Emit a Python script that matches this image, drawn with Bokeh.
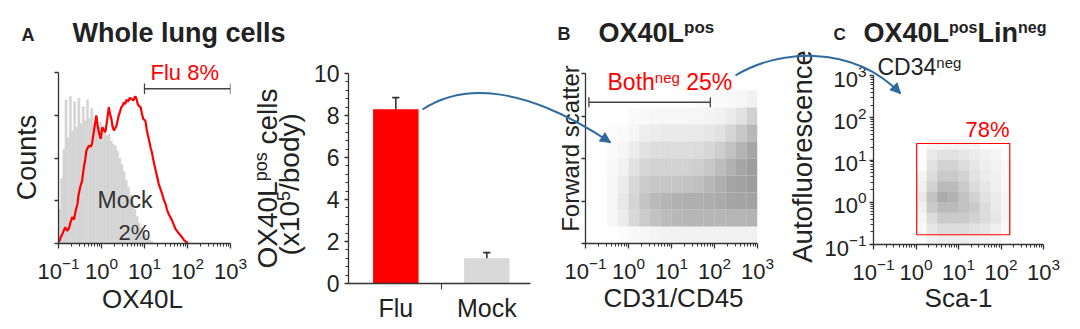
import math
from bokeh.plotting import figure
from bokeh.models import Range1d, FixedTicker, Arrow, NormalHead
from bokeh.core.properties import value
from bokeh.layouts import row
from bokeh.embed import file_html
from bokeh.resources import INLINE

# ------------------------------------------------------------------ data
decade_ticks = [0.1, 1, 10, 100, 1000]
decade_minor = [k * 10.0 ** e for e in range(-1, 3) for k in range(2, 10)]

# Panel A histogram (log10 OX40L bins of 0.05 decade, % of max)
mock_bin_left_log = [-1.0 + 0.05 * i for i in range(44)]
mock_counts = [20, 38, 55, 84, 62, 86, 66, 83, 68, 85, 70, 80, 72, 84, 73, 79,
               70, 74, 68, 71, 66, 67, 63, 64, 60, 58, 57, 54, 50, 46, 42, 37,
               33, 28, 24, 20, 16, 12, 9.5, 7, 5, 3.5, 2, 1]
flu_log = [-0.99, -0.95, -0.91, -0.87, -0.84, -0.80, -0.76, -0.72, -0.68, -0.64,
           -0.60, -0.56, -0.53, -0.49, -0.45, -0.41, -0.38, -0.35, -0.32, -0.29,
           -0.25, -0.22, -0.20, -0.18, -0.15, -0.12, -0.09, -0.06, -0.02, 0.02,
           0.05, 0.09, 0.13, 0.17, 0.20, 0.23, 0.26, 0.29, 0.32, 0.35, 0.40,
           0.43, 0.46, 0.49, 0.52, 0.55, 0.58, 0.62, 0.66, 0.70, 0.74, 0.77,
           0.79, 0.82, 0.84, 0.87, 0.91, 0.94, 0.97, 1.02, 1.05, 1.08, 1.11,
           1.14, 1.17, 1.20, 1.23, 1.26, 1.30, 1.33, 1.37, 1.41, 1.45, 1.49,
           1.52, 1.56, 1.60, 1.64, 1.68, 1.72, 1.78, 1.84, 1.88, 1.91, 1.96, 2.01]
flu_pct = [0.8, 3.5, 5.6, 8.0, 9.5, 7.5, 8.6, 12.5, 15.4, 14.0,
           19.3, 23.0, 29.0, 33.5, 36.8, 44.6, 49.0, 54.4, 56.0, 57.3,
           56.5, 58.3, 62.0, 65.1, 70.0, 74.9, 69.0, 65.1, 61.2, 68.0,
           66.5, 65.1, 72.0, 79.7, 75.5, 72.9, 68.0, 66.1, 67.5, 69.0, 74.9,
           77.0, 79.7, 80.5, 82.6, 81.5, 84.0, 83.0, 85.2, 84.5, 83.6, 85.5,
           86.0, 84.0, 81.7, 80.5, 79.7, 76.0, 72.9, 71.9, 67.0, 63.2, 60.0,
           56.3, 53.5, 49.5, 46.0, 42.7, 38.5, 34.9, 32.0, 29.1, 25.5, 23.2,
           20.0, 17.3, 15.5, 13.5, 11.0, 8.6, 6.5, 4.7, 3.4, 2.2, 1.0, 0.2]
gate_a = [10, 1000]
gate_a_level = 90.5

# Bar chart
bar_categories = ["Flu", "Mock"]
bar_values = [8.3, 1.2]
bar_errors = [0.55, 0.27]
bar_colors = ["#ff0000", "#d9d9d9"]

# Panel B density of events (columns: log10 CD31/CD45 from -1 by 0.25 dec,
# rows: forward scatter from 100 down to 0 by 10)
b_col_left_log = [-1.0 + 0.25 * i for i in range(16)]
b_row_top = [100 - 10 * i for i in range(10)]
b_density = [
    [0, 0, 0, 0, 0, 0, 0, 0, 0, 0, 0, 0, 0, 0, 0, 0],
    [0, 0, 0, 0, 0, 0, 0, 0, 0, 0, 0.1, 0.15, 0.2, 0.3, 0.5, 0.8],
    [0, 0, 0, 0, 0.2, 0.3, 0.4, 0.4, 0.4, 0.5, 0.5, 0.6, 0.8, 1.2, 2.0, 3.5],
    [0, 0, 0.1, 0.2, 0.5, 1.0, 1.2, 1.3, 1.3, 1.3, 1.4, 1.6, 2.0, 3.0, 4.5, 6.0],
    [0, 0, 0.2, 0.5, 1.2, 2.0, 2.4, 2.5, 2.4, 2.4, 2.6, 3.0, 3.8, 5.0, 6.5, 8.0],
    [0, 0, 0.3, 0.8, 2.0, 3.0, 3.4, 3.4, 3.3, 3.4, 3.8, 4.5, 5.5, 6.8, 8.0, 9.0],
    [0, 0, 0.4, 1.2, 2.8, 4.0, 4.5, 4.6, 4.6, 4.8, 5.2, 6.0, 7.0, 8.0, 8.5, 9.0],
    [0, 0, 0.5, 1.5, 3.2, 4.8, 5.8, 6.3, 6.8, 7.0, 7.0, 7.2, 7.5, 8.0, 8.2, 8.5],
    [0, 0, 0.4, 1.2, 2.8, 4.0, 5.0, 5.6, 6.0, 6.2, 6.2, 6.2, 6.2, 6.2, 6.2, 6.5],
    [0, 0, 0, 0.1, 0.3, 0.5, 0.6, 0.7, 0.8, 0.8, 0.8, 0.8, 0.8, 0.8, 0.8, 0.8],
]
gate_b = [0.12, 80]
gate_b_level = 83.1

# Panel C density of events (columns: log10 Sca-1 from 0 by 0.25 dec,
# rows: log10 autofluorescence from 1.5 down to -1 by 0.25 dec)
c_col_left_log = [0.25 * i for i in range(9)]
c_row_top_log = [1.5 - 0.25 * i for i in range(10)]
c_density = [
    [0, 0.3, 0.3, 0.3, 0.3, 0.3, 0, 0, 0],
    [0, 0.8, 1.2, 1.2, 1.0, 0.7, 0.5, 0.3, 0],
    [0, 1.2, 2.0, 2.0, 1.5, 1.0, 0.6, 0.4, 0.2],
    [0.3, 1.5, 2.5, 2.5, 2.0, 1.2, 0.7, 0.5, 0.2],
    [0.5, 2.0, 3.5, 3.5, 2.5, 1.5, 1.0, 0.5, 0.2],
    [0.8, 3.0, 4.5, 4.0, 3.0, 2.0, 1.2, 0.7, 0.3],
    [0.5, 2.5, 3.5, 3.5, 3.0, 2.5, 1.5, 0.8, 0.3],
    [0.3, 1.5, 2.5, 2.5, 2.5, 2.0, 1.5, 1.0, 0.3],
    [0.2, 1.0, 1.5, 1.5, 1.5, 1.2, 1.0, 0.5, 0.2],
    [0, 0.5, 0.7, 0.7, 0.6, 0.5, 0.4, 0.3, 0],
]
gate_c_x = [1.04, 161]
gate_c_y = [0.17, 24.6]

# ------------------------------------------------------------------ helpers
H = 329
FONT = "Liberation Sans"
DARK = "#222222"
AXC = "#333333"
RED = "#ff0000"
BLUE = "#2e6a9e"
MID = 0.35  # distance (em) from the text middle to its baseline

W_REG = {" ": 278, "(": 333, ")": 333, "/": 278, "-": 333, "%": 889,
         "A": 667, "B": 667, "C": 722, "D": 722, "F": 611, "L": 556, "M": 833,
         "O": 778, "S": 667, "X": 667, "a": 556, "b": 556, "c": 500, "d": 556,
         "e": 556, "f": 278, "g": 556, "h": 556, "i": 222, "k": 500, "l": 222,
         "n": 556, "o": 556, "p": 556, "r": 333, "s": 500, "t": 278, "u": 556,
         "w": 722, "x": 500, "y": 500}
W_BOLD = {" ": 278, "O": 778, "X": 667, "L": 611, "W": 944, "h": 611, "o": 611,
          "l": 278, "e": 556, "u": 611, "n": 611, "g": 611, "c": 556, "s": 556,
          "p": 611, "i": 278}


def text_w(t, size, bold=False):
    tab = W_BOLD if bold else W_REG
    return sum(tab.get(ch, 556) for ch in t) * size / 1000.0


class Geo:
    def __init__(s, cl, cw, fl, fr, ft, fb, xr, yr, xlog=False, ylog=False):
        s.cl, s.cw, s.fl, s.fr, s.ft, s.fb = cl, cw, fl, fr, ft, fb
        s.xr, s.yr, s.xlog, s.ylog = xr, yr, xlog, ylog

    def X(s, sx):
        f = (sx - s.fl) / (s.fr - s.fl)
        if s.xlog:
            a, b = math.log10(s.xr[0]), math.log10(s.xr[1])
            return 10 ** (a + f * (b - a))
        return s.xr[0] + f * (s.xr[1] - s.xr[0])

    def Y(s, sy):
        f = (s.fb - sy) / (s.fb - s.ft)
        if s.ylog:
            a, b = math.log10(s.yr[0]), math.log10(s.yr[1])
            return 10 ** (a + f * (b - a))
        return s.yr[0] + f * (s.yr[1] - s.yr[0])


def make_fig(g):
    p = figure(width=g.cw, height=H,
               x_range=Range1d(*g.xr), y_range=Range1d(*g.yr),
               x_axis_type="log" if g.xlog else "linear",
               y_axis_type="log" if g.ylog else "linear",
               min_border_left=g.fl - g.cl, min_border_right=g.cl + g.cw - g.fr,
               min_border_top=g.ft, min_border_bottom=H - g.fb,
               toolbar_location=None, output_backend="svg")
    p.frame_align = False
    p.xgrid.visible = False
    p.ygrid.visible = False
    p.outline_line_color = None
    p.background_fill_color = "white"
    p.border_fill_color = "white"
    for ax in (p.xaxis[0], p.yaxis[0]):
        ax.axis_line_color = AXC
        ax.axis_line_width = 1.3
        ax.major_tick_line_color = AXC
        ax.major_tick_line_width = 1.3
        ax.minor_tick_line_color = AXC
        ax.major_tick_in = 0
        ax.major_tick_out = 5
        ax.minor_tick_in = 0
        ax.minor_tick_out = 3
        ax.major_label_text_font = FONT
        ax.major_label_text_font_size = "22px"
        ax.major_label_text_color = DARK
    return p


def log_axis(ax):
    ax.ticker = FixedTicker(ticks=decade_ticks, minor_ticks=decade_minor)
    ax.major_label_standoff = 8


def blank_lin_axis(ax, ticks):
    ax.ticker = FixedTicker(ticks=ticks)
    ax.major_label_overrides = {t: "" for t in ticks}
    ax.major_tick_out = 4


def txt(p, g, sx, sy, t, size, color=DARK, bold=False, align="left", rot=False):
    """(sx, sy): baseline point in page pixels; rot: reads bottom-to-top."""
    if rot:
        ax, ay, ang = sx - MID * size, sy, math.pi / 2
    else:
        ax, ay, ang = sx, sy - MID * size, 0.0
    p.text(x=[g.X(ax)], y=[g.Y(ay)], text=[t], text_font=value(FONT),
           text_font_size=value(f"{size}px"), text_color=color,
           text_font_style="bold" if bold else "normal",
           text_align=align, text_baseline="middle", angle=ang, level="overlay")


def chain(p, g, sx, sy, pieces, color=DARK):
    x = sx
    for t, size, rise, bold in pieces:
        if t.startswith(" "):
            x += text_w(" ", size, bold)
            t = t[1:]
        txt(p, g, x, sy - rise, t, size, color=color, bold=bold)
        x += text_w(t, size, bold)


def vchain(p, g, sx, sy, pieces, color=DARK):
    y = sy
    for t, size, rise, bold in pieces:
        if t.startswith(" "):
            y -= text_w(" ", size, bold)
            t = t[1:]
        txt(p, g, sx - rise, y, t, size, color=color, bold=bold, rot=True)
        y -= text_w(t, size, bold)


def draw_curve(p, g, P):
    p.bezier(x0=[g.X(P[0][0])], y0=[g.Y(P[0][1])], x1=[g.X(P[3][0])], y1=[g.Y(P[3][1])],
             cx0=[g.X(P[1][0])], cy0=[g.Y(P[1][1])], cx1=[g.X(P[2][0])], cy1=[g.Y(P[2][1])],
             line_color=BLUE, line_width=2, level="overlay")


def draw_head(p, g, P):
    ex, ey = P[3]
    dx, dy = P[3][0] - P[2][0], P[3][1] - P[2][1]
    n = math.hypot(dx, dy)
    sx, sy = ex - 9 * dx / n, ey - 9 * dy / n
    p.add_layout(Arrow(end=NormalHead(size=10, fill_color=BLUE, line_color=BLUE),
                       x_start=g.X(sx), y_start=g.Y(sy), x_end=g.X(ex), y_end=g.Y(ey),
                       line_color=BLUE, line_width=2))


def density_quads(p, col_left_log, row_edges, dens, step, color, amax, dmax, ylog):
    l, r, b, t, a = [], [], [], [], []
    for ri, rowv in enumerate(dens):
        for ci, d in enumerate(rowv):
            if d <= 0:
                continue
            l.append(10 ** col_left_log[ci])
            r.append(10 ** (col_left_log[ci] + 0.25))
            top = row_edges[ri]
            if ylog:
                t.append(10 ** top)
                b.append(10 ** (top - step))
            else:
                t.append(top)
                b.append(top - step)
            a.append(amax * min(1.0, d / dmax) ** 0.8)
    p.quad(left=l, right=r, bottom=b, top=t, fill_color=color, fill_alpha=a,
           line_color=None)


# ------------------------------------------------------------------ geometry
gA = Geo(0, 308, 58, 230, 72, 243, (0.1, 1000), (0, 100), xlog=True)
gBar = Geo(308, 237, 348, 530, 73, 283, (-0.02, 1.98), (0, 10))
gB = Geo(545, 240, 585, 757, 73, 243, (0.1, 1000), (0, 100), xlog=True)
gC = Geo(785, 295, 873, 1043, 75, 244, (0.1, 1000), (0.1, 1000), xlog=True, ylog=True)

ARROW1 = [(422, 109), (460, 84), (520, 82), (610, 142)]
ARROW2 = [(735, 75), (775, 50), (850, 42), (900, 93)]

# ------------------------------------------------------------------ panel A
pA = make_fig(gA)
log_axis(pA.xaxis[0])
blank_lin_axis(pA.yaxis[0], [0, 25, 50, 75, 100])
pA.quad(left=[10 ** v for v in mock_bin_left_log],
        right=[10 ** (v + 0.05) for v in mock_bin_left_log],
        bottom=0, top=mock_counts, fill_color="#d4d4d4", line_color="#d4d4d4",
        line_width=0.5)
pA.line([10 ** v for v in flu_log], flu_pct, line_color=RED, line_width=2.2)
pA.segment(x0=[gate_a[0]], y0=[gate_a_level], x1=[gate_a[1]], y1=[gate_a_level],
           line_color="#444444", line_width=1.3)
pA.segment(x0=gate_a, y0=[gate_a_level - 3] * 2, x1=gate_a, y1=[gate_a_level + 3] * 2,
           line_color="#444444", line_width=1.3)
txt(pA, gA, 21, 41, "A", 18, bold=True)
txt(pA, gA, 72, 42, "Whole lung cells", 27, bold=True)
txt(pA, gA, 150, 80, "Flu 8%", 22, color=RED)
txt(pA, gA, 124.5, 208, "Mock", 23, color="#333333", align="center")
txt(pA, gA, 134, 240, "2%", 22, color="#333333", align="center")
txt(pA, gA, 36, 157, "Counts", 27, align="center", rot=True)
txt(pA, gA, 142, 308, "OX40L", 26, align="center")
# y label of the bar chart (placed in this canvas, left of bar chart)
vchain(pA, gA, 277, 268, [("OX40L", 28, 0, False), ("pos", 18, 10, False),
                          (" cells", 28, 0, False)])
vchain(pA, gA, 299, 255, [("(x10", 28, 0, False), ("5", 18, 10, False),
                          ("/body)", 28, 0, False)])

# ------------------------------------------------------------------ bar chart
pBar = make_fig(gBar)
bar_x = [i + 0.5 for i in range(len(bar_categories))]
pBar.vbar(x=bar_x, top=bar_values, width=0.5, fill_color=bar_colors, line_color=None)
err_top = [v + e for v, e in zip(bar_values, bar_errors)]
pBar.segment(x0=bar_x, y0=bar_values, x1=bar_x, y1=err_top, line_color=AXC, line_width=1.6)
pBar.segment(x0=[x - 0.04 for x in bar_x], y0=err_top, x1=[x + 0.04 for x in bar_x],
             y1=err_top, line_color=AXC, line_width=1.6)
yb = pBar.yaxis[0]
yb.ticker = FixedTicker(ticks=[0, 2, 4, 6, 8, 10],
                        minor_ticks=[round(0.4 * i, 1) for i in range(26)])
yb.major_tick_out = 4
yb.minor_tick_out = 3
yb.major_label_text_font_size = "23px"
yb.major_label_standoff = 5
xb = pBar.xaxis[0]
xb.ticker = FixedTicker(ticks=bar_x, minor_ticks=[1.0])
xb.major_label_overrides = {x: c for x, c in zip(bar_x, bar_categories)}
xb.major_tick_out = 0
xb.minor_tick_out = 6
xb.major_label_text_font_size = "25px"
xb.major_label_standoff = 4
draw_curve(pBar, gBar, ARROW1)

# ------------------------------------------------------------------ panel B
pB = make_fig(gB)
log_axis(pB.xaxis[0])
blank_lin_axis(pB.yaxis[0], [0, 25, 50, 75, 100])
density_quads(pB, b_col_left_log, b_row_top, b_density, 10, "#8c8c8c", 0.85, 9.0, False)
pB.segment(x0=[gate_b[0]], y0=[gate_b_level], x1=[gate_b[1]], y1=[gate_b_level],
           line_color="#444444", line_width=1.3)
pB.segment(x0=gate_b, y0=[gate_b_level - 3] * 2, x1=gate_b, y1=[gate_b_level + 3] * 2,
           line_color="#444444", line_width=1.3)
txt(pB, gB, 557, 40, "B", 18, bold=True)
chain(pB, gB, 598, 42, [("OX40L", 27, 0, True), ("pos", 17, 9, True)])
chain(pB, gB, 607, 90, [("Both", 23, 0, False), ("neg", 15, 8, False),
                        (" 25%", 23, 0, False)], color=RED)
txt(pB, gB, 578, 148, "Forward scatter", 24, align="center", rot=True)
txt(pB, gB, 673, 307, "CD31/CD45", 26, align="center")
draw_curve(pB, gB, ARROW1)
draw_head(pB, gB, ARROW1)
draw_curve(pB, gB, ARROW2)

# ------------------------------------------------------------------ panel C
pC = make_fig(gC)
log_axis(pC.xaxis[0])
log_axis(pC.yaxis[0])
pC.yaxis[0].major_tick_out = 4
pC.yaxis[0].major_label_standoff = 3
density_quads(pC, c_col_left_log, c_row_top_log, c_density, 0.25, "#555555", 0.5, 4.5, True)
pC.quad(left=[gate_c_x[0]], right=[gate_c_x[1]], bottom=[gate_c_y[0]], top=[gate_c_y[1]],
        fill_color=None, line_color=RED, line_width=1.2)
txt(pC, gC, 833, 40, "C", 17, bold=True)
chain(pC, gC, 863, 42, [("OX40L", 27, 0, True), ("pos", 16, 9, True),
                        ("Lin", 27, 0, True), ("neg", 16, 9, True)])
chain(pC, gC, 877, 75, [("CD34", 23, 0, False), ("neg", 15, 8, False)])
txt(pC, gC, 965, 137, "78%", 22, color=RED)
txt(pC, gC, 812, 156, "Autofluorescence", 27.5, align="center", rot=True)
txt(pC, gC, 958, 307, "Sca-1", 26, align="center")
draw_curve(pC, gC, ARROW2)
draw_head(pC, gC, ARROW2)

layout = row(pA, pBar, pB, pC, spacing=0)
open("out.html", "w").write(file_html(layout, INLINE))
